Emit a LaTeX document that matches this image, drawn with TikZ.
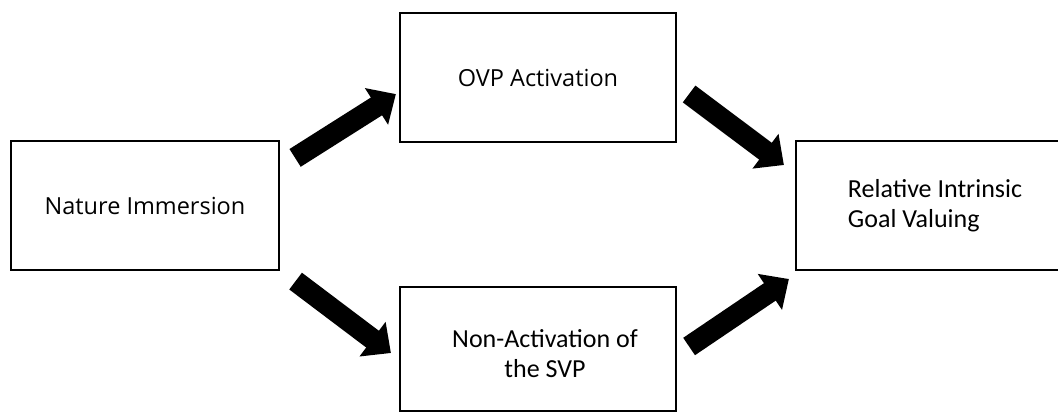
\documentclass[tikz,border=0pt]{standalone}
\usepackage{fontspec}
\newfontfamily\opensans{Open Sans}
\newfontfamily\carlito{Carlito}
\usetikzlibrary{arrows.meta,calc}
\tikzset{
  box/.style={draw=black, line width=2.2pt, inner sep=0pt, fill=white},
  ostext/.style={font=\opensans\fontsize{23.5}{28}\selectfont, text=black},
  cltext/.style={font=\carlito\fontsize{26}{30}\selectfont, text=black},
  bigarrow/.style={line width=21pt, -{Triangle[length=23pt,width=42pt]}, black}
}
\begin{document}
\begin{tikzpicture}[x=1pt,y=-1pt]
\fill[white] (0,0) rectangle (1058,413);
\useasboundingbox (0,0) rectangle (1058,413);
\node[box, ostext, minimum width=268pt, minimum height=129pt] (nat) at (145,205.5) {Nature Immersion};
\node[box, ostext, minimum width=276pt, minimum height=129pt] (ovp) at (538,77.5) {OVP Activation};
\node[box, minimum width=276pt, minimum height=124pt] (svp) at (538,349) {};
\node[cltext, align=center] (svptext) at ($(svp.center)+(7,5)$) {Non-Activation of\\the SVP};
\node[box, cltext, align=left, minimum width=278pt, minimum height=129pt] (rel) at (935,205.5) {Relative Intrinsic\\Goal Valuing};
\coordinate (a1s) at ($(nat.north east)+(15,18)$);
\coordinate (a1e) at ($(ovp.south west)+(-3,-49)$);
\coordinate (a2s) at ($(nat.south east)+(15.5,10)$);
\coordinate (a2e) at ($(svp.west)+(-8,4)$);
\coordinate (a3s) at ($(ovp.east)+(12,16.5)$);
\coordinate (a3e) at ($(rel.west)+(-11,-40.5)$);
\coordinate (a4s) at ($(svp.east)+(12,-2.5)$);
\coordinate (a4e) at ($(rel.west)+(-6,73.5)$);
\draw[bigarrow] (a1s) -- (a1e);
\draw[bigarrow] (a2s) -- (a2e);
\draw[bigarrow] (a3s) -- (a3e);
\draw[bigarrow] (a4s) -- (a4e);
\end{tikzpicture}
\end{document}
